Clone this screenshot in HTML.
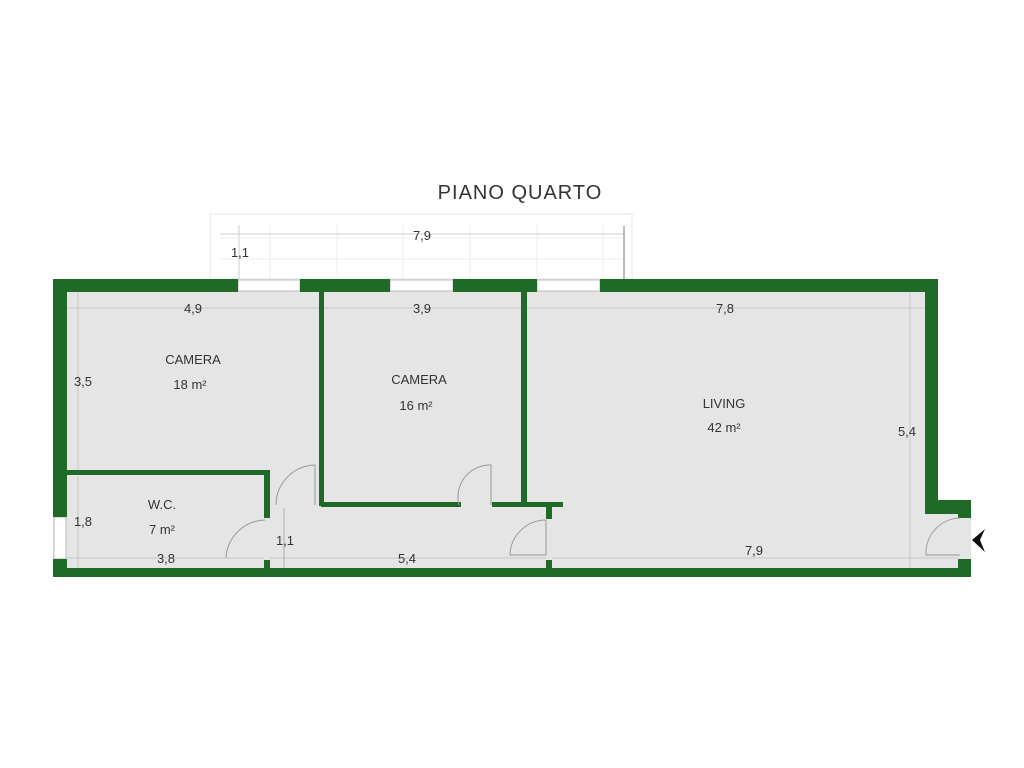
<!DOCTYPE html>
<html><head><style>body{margin:0;background:#fff}svg{display:block}text{font-family:"Liberation Sans",sans-serif;fill:#333}</style></head><body>
<svg width="1024" height="768" viewBox="0 0 1024 768">
<text x="520" y="199" font-size="20" text-anchor="middle" fill="#222" style="letter-spacing:1px">PIANO QUARTO</text>
<!-- balcony -->
<rect x="210" y="214" width="422" height="65" fill="#fff" stroke="#e4e4e4"/>
<g stroke="#ececec" stroke-width="1">
<line x1="220" y1="238" x2="625" y2="238"/><line x1="220" y1="259" x2="625" y2="259"/>
<line x1="270" y1="225" x2="270" y2="279"/><line x1="337" y1="225" x2="337" y2="279"/><line x1="403" y1="225" x2="403" y2="279"/><line x1="470" y1="225" x2="470" y2="279"/><line x1="537" y1="225" x2="537" y2="279"/><line x1="603" y1="225" x2="603" y2="279"/>
</g>
<line x1="220" y1="234" x2="625" y2="234" stroke="#ccc"/>
<line x1="624" y1="226" x2="624" y2="279" stroke="#777"/>
<line x1="239" y1="225" x2="239" y2="279" stroke="#ccc"/>
<text x="422" y="240" font-size="13" text-anchor="middle">7,9</text>
<text x="240" y="257" font-size="13" text-anchor="middle">1,1</text>
<!-- floor -->
<path d="M53 279H938V500H971V577H53Z" fill="#e5e5e5"/>
<!-- dimension lines -->
<g stroke="#c6c6c6" stroke-width="1">
<line x1="67" y1="308" x2="319" y2="308"/><line x1="324" y1="308" x2="521" y2="308"/><line x1="527" y1="308" x2="925" y2="308"/>
<line x1="78" y1="292" x2="78" y2="470"/><line x1="78" y1="476" x2="78" y2="568"/>
<line x1="910" y1="292" x2="910" y2="568"/>
<line x1="67" y1="558" x2="264" y2="558"/><line x1="270" y1="558" x2="546" y2="558"/><line x1="552" y1="558" x2="958" y2="558"/>
<line x1="284" y1="508" x2="284" y2="568" stroke="#aaa"/>
</g>
<text x="193" y="313" font-size="13" text-anchor="middle">4,9</text>
<text x="422" y="313" font-size="13" text-anchor="middle">3,9</text>
<text x="725" y="313" font-size="13" text-anchor="middle">7,8</text>
<text x="83" y="386" font-size="13" text-anchor="middle">3,5</text>
<text x="83" y="526" font-size="13" text-anchor="middle">1,8</text>
<text x="907" y="436" font-size="13" text-anchor="middle">5,4</text>
<text x="166" y="563" font-size="13" text-anchor="middle">3,8</text>
<text x="407" y="563" font-size="13" text-anchor="middle">5,4</text>
<text x="754" y="555" font-size="13" text-anchor="middle">7,9</text>
<text x="285" y="545" font-size="13" text-anchor="middle">1,1</text>
<!-- room labels -->
<g font-size="13" text-anchor="middle">
<text x="193" y="364">CAMERA</text><text x="190" y="389">18 m²</text>
<text x="419" y="384">CAMERA</text><text x="416" y="410">16 m²</text>
<text x="724" y="408">LIVING</text><text x="724" y="432">42 m²</text>
<text x="162" y="509">W.C.</text><text x="162" y="534">7 m²</text>
</g>
<!-- windows -->
<g fill="#fff" stroke="#bbb" stroke-width="1">
<rect x="238" y="280" width="62" height="11"/><rect x="390" y="280" width="63" height="11"/><rect x="537" y="280" width="63" height="11"/>
<rect x="54" y="517" width="12" height="42"/>
</g>
<!-- walls -->
<g fill="#1f6a26">
<rect x="53" y="279" width="185" height="13"/><rect x="300" y="279" width="90" height="13"/><rect x="453" y="279" width="84" height="13"/><rect x="600" y="279" width="338" height="13"/>
<rect x="53" y="279" width="14" height="238"/><rect x="53" y="559" width="14" height="18"/>
<rect x="925" y="279" width="13" height="234"/><rect x="925" y="500" width="46" height="14"/><rect x="958" y="500" width="13" height="18"/><rect x="958" y="559" width="13" height="18"/>
<rect x="53" y="568" width="918" height="9"/>
<rect x="319" y="292" width="5" height="214"/><rect x="521" y="292" width="6" height="214"/>
<rect x="321" y="502" width="140" height="5"/><rect x="492" y="502" width="71" height="5"/>
<rect x="546" y="507" width="6" height="12"/><rect x="546" y="560" width="6" height="10"/>
<rect x="67" y="470" width="203" height="5"/><rect x="264" y="470" width="6" height="48"/><rect x="264" y="560" width="6" height="10"/>
</g>
<!-- doors -->
<g fill="none" stroke="#999" stroke-width="1">
<path d="M315 505V465A40 40 0 0 0 276 505"/>
<path d="M491 505V465A32 32 0 0 0 459 505"/>
<path d="M546 520V555H510A36 36 0 0 1 546 520"/>
<path d="M265 520A40 40 0 0 0 226 558"/>
<path d="M960 518A35 35 0 0 0 926 555H960"/>
</g>
<polygon points="972,540 985,529 980,540 985,552" fill="#111"/>
</svg>
</body></html>
